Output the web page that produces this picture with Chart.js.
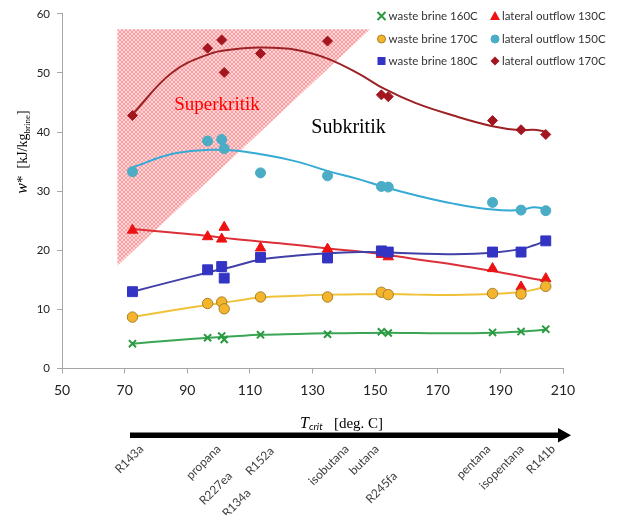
<!DOCTYPE html>
<html>
<head>
<meta charset="utf-8">
<script src="https://cdn.jsdelivr.net/npm/chart.js@4.4.1/dist/chart.umd.min.js"></script>
<style>
  html, body { margin: 0; padding: 0; background: #ffffff; }
  #wrap { width: 617px; height: 515px; position: relative; }
</style>
</head>
<body>
<div id="wrap"><canvas id="chart" width="617" height="515"></canvas></div>
<script>
// Critical temperature of each working fluid [deg. C]
const fluids = ['R143a', 'propana', 'R134a', 'R227ea', 'R152a', 'isobutana', 'butana', 'R245fa', 'pentana', 'isopentana', 'R141b'];
const tCrit  = [72.5, 96.5, 101.0, 101.8, 113.4, 134.8, 152.0, 154.2, 187.5, 196.6, 204.5];

// Specific work w* [kJ/kg brine] per fluid
const wasteBrine160    = [4.2, 5.2, 5.5, 4.9, 5.7, 5.8, 6.2, 6.0, 6.1, 6.25, 6.65];
const wasteBrine170    = [8.7, 11.0, 11.25, 10.1, 12.1, 12.1, 12.9, 12.5, 12.7, 12.6, 13.9];
const wasteBrine180    = [13.0, 16.7, 17.25, 15.3, 18.8, 18.7, 19.9, 19.7, 19.7, 19.7, 21.6];
const lateralOutflow130 = [23.4, 22.3, 21.9, 23.9, 20.4, 20.2, 19.3, 18.9, 16.9, 13.8, 15.2];
const lateralOutflow150 = [33.3, 38.5, 38.75, 37.2, 33.1, 32.6, 30.8, 30.7, 28.1, 26.8, 26.7];
const lateralOutflow170 = [42.8, 54.2, 55.6, 50.1, 53.3, 55.4, 46.3, 46.0, 41.95, 40.4, 39.6];

// Smoothed trend curves, sampled along T_crit
const trendT       = [72.5, 85, 97, 105, 113, 125, 135, 145, 153, 163, 175, 187.5, 196.5, 200.5, 204.5];
const trend160     = [4.2, 4.75, 5.2, 5.45, 5.7, 5.85, 5.95, 6.0, 6.05, 6.0, 5.95, 6.05, 6.25, 6.4, 6.6];
const trend170     = [8.7, 9.8, 10.8, 11.4, 12.0, 12.3, 12.5, 12.55, 12.6, 12.5, 12.45, 12.6, 12.95, 13.3, 13.9];
const trend180     = [13.0, 14.7, 16.3, 17.3, 18.4, 19.1, 19.5, 19.7, 19.65, 19.45, 19.35, 19.6, 20.2, 20.8, 21.6];
const trendLat130  = [23.6, 23.0, 22.4, 21.9, 21.5, 20.9, 20.3, 19.8, 19.3, 18.5, 17.6, 16.5, 15.6, 15.2, 14.8];
const trendLat150  = [34.0, 36.3, 37.0, 36.9, 36.3, 35.0, 33.4, 32.0, 30.7, 29.3, 27.9, 26.9, 26.8, 27.3, 27.0];
const trendLat170  = [43.0, 50.0, 53.2, 54.0, 54.3, 53.9, 52.4, 49.8, 47.3, 44.9, 42.8, 41.0, 40.3, 40.4, 40.1];

// Supercritical region (corners in T_crit / w* units)
const superT = [67.7, 148.4, 67.7];
const superW = [57.4, 57.4, 17.4];

// Axis ranges
const xMin = 50, xMax = 210, xStep = 20;
const yMin = 0, yMax = 60, yStep = 10;

function pts(xs, ys) { return xs.map((x, i) => ({ x: x, y: ys[i] })); }

const series = [
  { label: 'waste brine 160C',     vals: wasteBrine160,     trend: trend160,    style: 'crossRot', fill: '#2a9a3e', edge: '#2a9a3e', line: '#3aa655', r: 5,   bw: 2 },
  { label: 'waste brine 170C',     vals: wasteBrine170,     trend: trend170,    style: 'circle',   fill: '#f4b52c', edge: '#a8802a', line: '#f0c23a', r: 5.2, bw: 1 },
  { label: 'waste brine 180C',     vals: wasteBrine180,     trend: trend180,    style: 'rect',     fill: '#3434c4', edge: '#3434c4', line: '#4040a8', r: 7,   bw: 1 },
  { label: 'lateral outflow 130C', vals: lateralOutflow130, trend: trendLat130, style: 'triangle', fill: '#ee1111', edge: '#ee1111', line: '#dc3038', r: 6,   bw: 1 },
  { label: 'lateral outflow 150C', vals: lateralOutflow150, trend: trendLat150, style: 'circle',   fill: '#4bacc6', edge: '#4bacc6', line: '#35aad4', r: 5,   bw: 1 },
  { label: 'lateral outflow 170C', vals: lateralOutflow170, trend: trendLat170, style: 'rectRot',  fill: '#a3161f', edge: '#a3161f', line: '#9c2226', r: 5,   bw: 1 }
];

const datasets = [];
series.forEach(s => {
  datasets.push({
    label: s.label,
    data: pts(tCrit, s.vals),
    pointStyle: s.style,
    pointRadius: s.r,
    pointBackgroundColor: s.fill,
    pointBorderColor: s.edge,
    pointBorderWidth: s.bw,
    showLine: false,
    order: 0
  });
  datasets.push({
    label: s.label + ' trend',
    data: pts(trendT, s.trend),
    showLine: true,
    borderColor: s.line,
    borderWidth: 2,
    pointRadius: 0,
    tension: 0.4,
    fill: false,
    order: 1
  });
});

// Pink cross-hatch tile for the supercritical region
function hatchPattern(ctx) {
  const tile = document.createElement('canvas');
  tile.width = 4; tile.height = 4;
  const t = tile.getContext('2d');
  t.fillStyle = 'rgb(255,214,214)';
  t.fillRect(0, 0, 4, 4);
  t.fillStyle = 'rgb(250,158,164)';
  for (let i = 0; i < 4; i++) {
    t.fillRect(i, i, 1, 1);
    t.fillRect(3 - i, i, 1, 1);
  }
  return ctx.createPattern(tile, 'repeat');
}

const regionPlugin = {
  id: 'regions',
  beforeDatasetsDraw(chart) {
    const { ctx, scales: { x, y } } = chart;
    ctx.save();
    ctx.beginPath();
    superT.forEach((t, i) => {
      const px = x.getPixelForValue(t), py = y.getPixelForValue(superW[i]);
      if (i === 0) ctx.moveTo(px, py); else ctx.lineTo(px, py);
    });
    ctx.closePath();
    ctx.fillStyle = hatchPattern(ctx);
    ctx.fill();

    ctx.textAlign = 'center';
    ctx.textBaseline = 'middle';
    ctx.font = '19px "Liberation Serif", "Times New Roman", serif';
    ctx.fillStyle = '#ff0000';
    ctx.fillText('Superkritik', x.getPixelForValue(99.5), y.getPixelForValue(44.6));
    ctx.fillStyle = '#000000';
    ctx.font = '20px "Liberation Serif", "Times New Roman", serif';
    ctx.fillText('Subkritik', x.getPixelForValue(141.5), y.getPixelForValue(40.8));
    ctx.restore();
  }
};

function drawMarker(ctx, s, cx, cy) {
  ctx.save();
  ctx.fillStyle = s.fill;
  ctx.strokeStyle = s.edge;
  ctx.lineWidth = s.bw;
  ctx.beginPath();
  if (s.style === 'crossRot') {
    const d = 4;
    ctx.moveTo(cx - d, cy - d); ctx.lineTo(cx + d, cy + d);
    ctx.moveTo(cx + d, cy - d); ctx.lineTo(cx - d, cy + d);
    ctx.stroke();
  } else if (s.style === 'circle') {
    ctx.arc(cx, cy, 4, 0, Math.PI * 2);
    ctx.fill(); ctx.stroke();
  } else if (s.style === 'rect') {
    ctx.rect(cx - 4, cy - 4, 8, 8);
    ctx.fill();
  } else if (s.style === 'triangle') {
    ctx.moveTo(cx, cy - 5); ctx.lineTo(cx + 5, cy + 4); ctx.lineTo(cx - 5, cy + 4);
    ctx.closePath(); ctx.fill();
  } else if (s.style === 'rectRot') {
    ctx.moveTo(cx, cy - 4.5); ctx.lineTo(cx + 4.5, cy); ctx.lineTo(cx, cy + 4.5); ctx.lineTo(cx - 4.5, cy);
    ctx.closePath(); ctx.fill();
  }
  ctx.restore();
}

const decorPlugin = {
  id: 'decor',
  afterDraw(chart) {
    const { ctx, scales: { x } } = chart;
    ctx.save();

    // legend: two columns of three entries
    const cols = [381.5, 495];
    const rows = [16, 39, 61];
    ctx.font = '11.5px Lato, "Open Sans", sans-serif';
    ctx.textBaseline = 'middle';
    ctx.textAlign = 'left';
    series.forEach((s, i) => {
      const cx = cols[Math.floor(i / 3)], cy = rows[i % 3];
      drawMarker(ctx, s, cx, cy);
      ctx.fillStyle = '#333333';
      ctx.fillText(s.label, cx + 7, cy);
    });

    // y-axis title: w* [kJ/kg_brine]
    ctx.save();
    ctx.translate(22, 152);
    ctx.rotate(-Math.PI / 2);
    const serif = '"Liberation Serif", "Times New Roman", serif';
    const parts = [
      { t: 'w', f: 'italic 16px ' + serif, dy: 0 },
      { t: '*', f: '15px ' + serif, dy: 0 },
      { t: '  [kJ/kg', f: '14px ' + serif, dy: 0 },
      { t: 'brine', f: '9px ' + serif, dy: 3 },
      { t: ']', f: '14px ' + serif, dy: 0 }
    ];
    let total = 0;
    parts.forEach(p => { ctx.font = p.f; p.w = ctx.measureText(p.t).width; total += p.w; });
    let pos = -total / 2;
    ctx.fillStyle = '#000000';
    ctx.textBaseline = 'alphabetic';
    parts.forEach(p => { ctx.font = p.f; ctx.fillText(p.t, pos, 5 + p.dy); pos += p.w; });
    ctx.restore();

    // x-axis title: T_crit [deg. C]
    const xparts = [
      { t: 'T', f: 'italic 16px ' + serif, dy: 0 },
      { t: 'crit', f: 'italic 10px Lato, sans-serif', dy: 3 },
      { t: '   [deg. C]', f: '15px ' + serif, dy: 0 }
    ];
    let xp = 300;
    ctx.fillStyle = '#000000';
    xparts.forEach(p => { ctx.font = p.f; ctx.fillText(p.t, xp, 424 + p.dy); xp += ctx.measureText(p.t).width; });

    // arrow along increasing critical temperature
    ctx.fillStyle = '#000000';
    ctx.fillRect(130, 432.5, 430, 5.5);
    ctx.beginPath();
    ctx.moveTo(571, 435.2); ctx.lineTo(558, 428); ctx.lineTo(558, 442.5); ctx.closePath();
    ctx.fill();

    // fluid names under the arrow, placed from their critical temperature
    const place = {
      'R143a': [12, 443], 'propana': [14, 443], 'R134a': [30, 487], 'R227ea': [9, 470],
      'R152a': [14.5, 445], 'isobutana': [22.5, 443], 'butana': [-1.5, 443], 'R245fa': [10, 470],
      'pentana': [-1, 443], 'isopentana': [4, 443], 'R141b': [10.5, 443]
    };
    ctx.font = '12px Lato, "Open Sans", sans-serif';
    ctx.fillStyle = '#404040';
    ctx.textAlign = 'right';
    ctx.textBaseline = 'middle';
    fluids.forEach((name, i) => {
      const p = place[name];
      const ex = x.getPixelForValue(tCrit[i]) + p[0] - 3;
      const ey = p[1] + 4;
      ctx.save();
      ctx.translate(ex, ey);
      ctx.rotate(-Math.PI / 4);
      ctx.fillText(name, 0, 0);
      ctx.restore();
    });
    ctx.restore();
  }
};

const axisGrey = '#a6a6a6';

new Chart(document.getElementById('chart'), {
  type: 'scatter',
  data: { datasets: datasets },
  options: {
    responsive: false,
    animation: false,
    devicePixelRatio: 1,
    layout: { padding: { left: 0, right: 54, top: 12, bottom: 0 } },
    plugins: { legend: { display: false }, tooltip: { enabled: false } },
    scales: {
      x: {
        type: 'linear',
        min: xMin, max: xMax,
        afterFit(scale) { scale.height = 146.5; },
        ticks: { stepSize: xStep, color: '#222222', padding: 9, font: { family: 'Lato, "Open Sans", sans-serif', size: 14 } },
        grid: { drawOnChartArea: false, drawTicks: true, tickLength: 5, color: axisGrey },
        border: { display: true, color: axisGrey }
      },
      y: {
        type: 'linear',
        min: yMin, max: yMax,
        afterFit(scale) { scale.width = 62; },
        ticks: { stepSize: yStep, color: '#222222', padding: 7, font: { family: 'Lato, "Open Sans", sans-serif', size: 11.5 } },
        grid: { drawOnChartArea: false, drawTicks: true, tickLength: 5, color: axisGrey },
        border: { display: true, color: axisGrey }
      }
    }
  },
  plugins: [regionPlugin, decorPlugin]
});
</script>
</body>
</html>
